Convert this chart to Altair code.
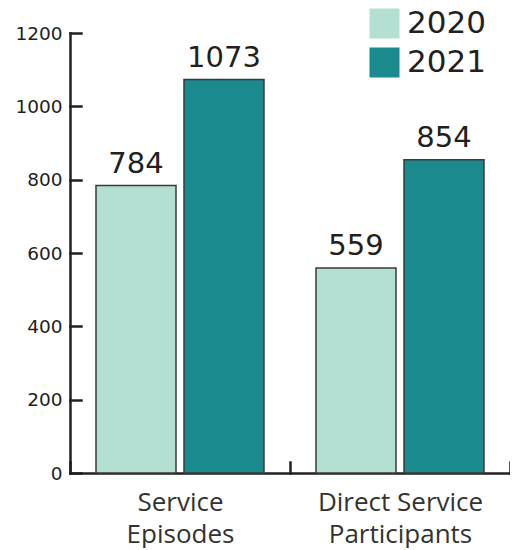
import altair as alt
import pandas as pd

categories = ["Service Episodes", "Direct Service Participants"]
years = ["2020", "2021"]
values_2020 = [784, 559]
values_2021 = [1073, 854]
y_ticks = [0, 200, 400, 600, 800, 1000, 1200]
colors = ["#b4dfd3", "#1a8a8f"]

rows = []
for i, c in enumerate(categories):
    rows.append({"cat": c, "year": years[0], "value": values_2020[i]})
    rows.append({"cat": c, "year": years[1], "value": values_2021[i]})
df = pd.DataFrame(rows)

W, H = 440, 440
ink = "#231f20"
inward = alt.ExprRef(expr="-11")  # ticks pointing into the plot

x_enc = alt.X(
    "cat:N",
    sort=categories,
    scale=alt.Scale(paddingInner=0, paddingOuter=0),
    axis=alt.Axis(
        title=None,
        ticks=True,
        tickBand="extent",
        tickSize=inward,
        tickWidth=2.5,
        tickColor=ink,
        domainColor=ink,
        domainWidth=2.5,
        labelFont="Open Sans",
        labelFontSize=26,
        labelColor="#333333",
        labelAngle=0,
        labelPadding=27,
        labelLineHeight=32,
        labelBaseline="top",
        labelExpr="[substring(datum.label, 0, lastindexof(datum.label, ' ')), substring(datum.label, lastindexof(datum.label, ' ') + 1)]",
    ),
)
y_enc = alt.Y(
    "value:Q",
    scale=alt.Scale(domain=[0, 1200], nice=False),
    axis=alt.Axis(
        title=None,
        values=y_ticks,
        format="d",
        ticks=True,
        tickSize=inward,
        tickWidth=2.5,
        tickColor=ink,
        grid=False,
        domainColor=ink,
        domainWidth=2.5,
        labelFont="DejaVu Sans",
        labelFontSize=18.5,
        labelColor=ink,
        labelPadding=19,
    ),
)
xoff = alt.XOffset(
    "year:N",
    sort=years,
    scale=alt.Scale(paddingInner=0.0909, paddingOuter=0.2955),
)
color = alt.Color(
    "year:N",
    sort=years,
    scale=alt.Scale(domain=years, range=colors),
    legend=alt.Legend(
        title=None,
        orient="none",
        legendX=299,
        legendY=-25,
        padding=0,
        symbolType="square",
        symbolSize=900,
        symbolStrokeWidth=0,
        labelFont="DejaVu Sans",
        labelFontSize=31,
        labelColor=ink,
        labelOffset=7,
        rowPadding=7,
    ),
)

bars = alt.Chart(df).mark_bar(stroke="#3a3a3a", strokeWidth=1.5).encode(
    x=x_enc, xOffset=xoff, y=y_enc, color=color
)
labels = alt.Chart(df).mark_text(
    font="DejaVu Sans", fontSize=29, color=ink, baseline="alphabetic", dy=-13
).encode(
    x=alt.X("cat:N", sort=categories),
    xOffset=alt.XOffset("year:N", sort=years),
    y=alt.Y("value:Q"),
    text=alt.Text("value:Q"),
)

chart = (
    alt.layer(bars, labels)
    .properties(
        width=W,
        height=H,
        autosize=alt.AutoSizeParams(type="none"),
        padding={"left": 62, "top": 25, "right": 0, "bottom": 75},
    )
    .configure_view(stroke=None)
    .configure_axis(domainCap="square", tickCap="square")
)

chart.save("out.html", embed_options={"renderer": "svg", "actions": False})
